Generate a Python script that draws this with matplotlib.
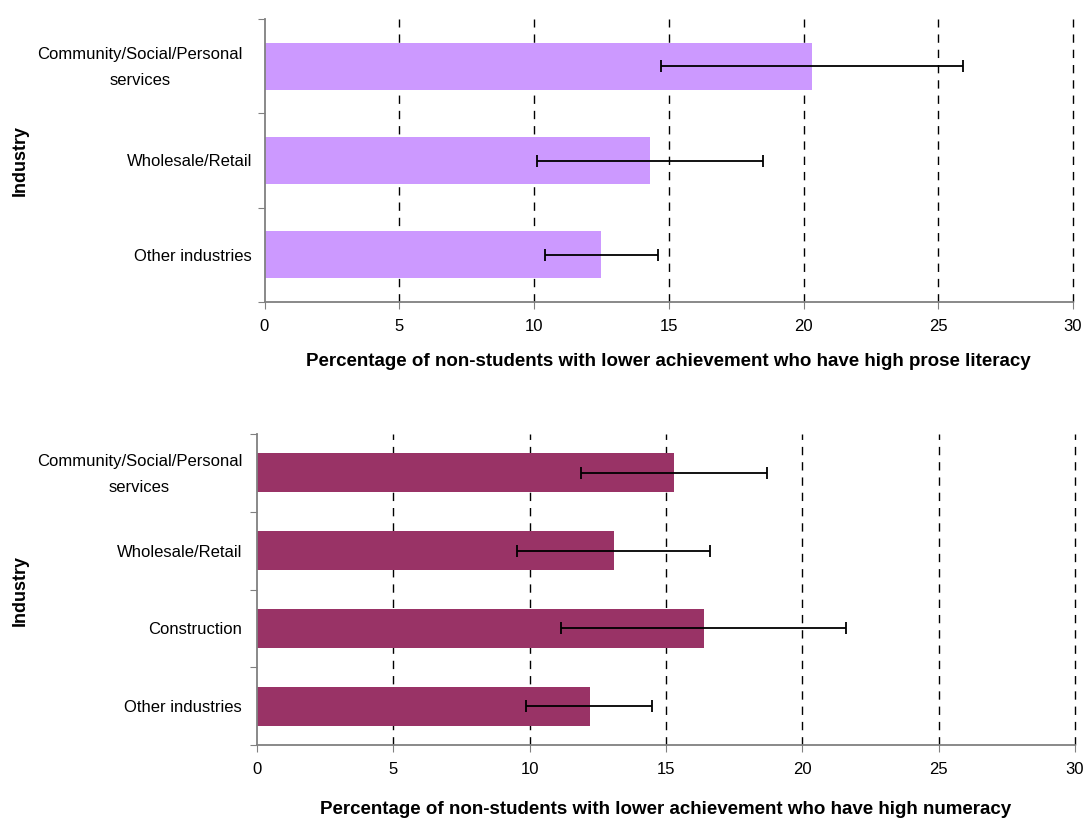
import matplotlib
matplotlib.use("Agg")
import matplotlib.pyplot as plt
import numpy as np

plt.rcParams['font.family'] = ['Liberation Sans', 'DejaVu Sans']

# Top chart: prose literacy
prose_categories = ["Community/Social/Personal\nservices", "Wholesale/Retail", "Other industries"]
prose_values = [20.3, 14.3, 12.5]
prose_low = [14.7, 10.1, 10.4]
prose_high = [25.9, 18.5, 14.6]

# Bottom chart: numeracy
num_categories = ["Community/Social/Personal\nservices", "Wholesale/Retail", "Construction", "Other industries"]
num_values = [15.3, 13.1, 16.4, 12.2]
num_low = [11.9, 9.55, 11.15, 9.85]
num_high = [18.7, 16.6, 21.6, 14.5]

x_ticks = [0, 5, 10, 15, 20, 25, 30]

W, H = 1084, 819
fig = plt.figure(figsize=(W / 100, H / 100), dpi=100)

AXIS_COLOR = "#808080"


def make_panel(rect, cats, vals, lo, hi, color, xlabel, xlabel_y, ylabel_y, label_gaps):
    ax = fig.add_axes(rect)
    n = len(cats)
    y = np.arange(n)
    vals = np.array(vals)
    err = [vals - np.array(lo), np.array(hi) - vals]
    for xv in x_ticks[1:]:
        ax.axvline(xv, color="black", lw=1.0, ls=(0, (6, 5)), zorder=1, clip_on=False)
    ax.barh(y, vals, height=0.5, color=color, zorder=2)
    ax.errorbar(vals, y, xerr=err, fmt="none", ecolor="black", elinewidth=1.3,
                capsize=4.5, capthick=1.3, zorder=3)
    ax.set_xlim(0, 30)
    ax.set_ylim(n - 0.5, -0.5)
    ax.set_xticks(x_ticks)
    ax.set_xticklabels([str(v) for v in x_ticks], fontsize=12)
    ax.set_yticks(np.arange(n + 1) - 0.5)
    ax.set_yticklabels([])
    ax.tick_params(axis="y", which="major", length=5, color=AXIS_COLOR, direction="out")
    ax.tick_params(axis="x", which="major", length=5, color=AXIS_COLOR, direction="out", pad=7)
    for s in ["top", "right"]:
        ax.spines[s].set_visible(False)
    for s in ["left", "bottom"]:
        ax.spines[s].set_color(AXIS_COLOR)
        ax.spines[s].set_linewidth(1.3)
    for yi, cat, gap in zip(y, cats, label_gaps):
        ax.annotate(cat, xy=(0, yi), xycoords=("axes fraction", "data"),
                    xytext=(-gap * 0.72, -1), textcoords="offset points",
                    ha="right", va="center", multialignment="center",
                    fontsize=12, linespacing=1.9, annotation_clip=False)
    fig.text(0.5 * (rect[0] + rect[0] + rect[2]), xlabel_y, xlabel, ha="center", va="center",
             fontsize=13.5, fontweight="bold")
    fig.text(20 / W, ylabel_y, "Industry", rotation=90, ha="center", va="center",
             fontsize=13, fontweight="bold")
    return ax


make_panel([264.5 / W, 1 - 302 / H, (1073 - 264.5) / W, (302 - 19) / H],
           prose_categories, prose_values, prose_low, prose_high, "#CC99FF",
           "Percentage of non-students with lower achievement who have high prose literacy",
           1 - 362 / H, 1 - 160 / H, [22, 12, 13])

make_panel([257 / W, 1 - 745 / H, (1075 - 257) / W, (745 - 434) / H],
           num_categories, num_values, num_low, num_high, "#993366",
           "Percentage of non-students with lower achievement who have high numeracy",
           1 - 810 / H, 1 - 590 / H, [15, 15, 15, 15])

fig.savefig("out.png", dpi=100)
